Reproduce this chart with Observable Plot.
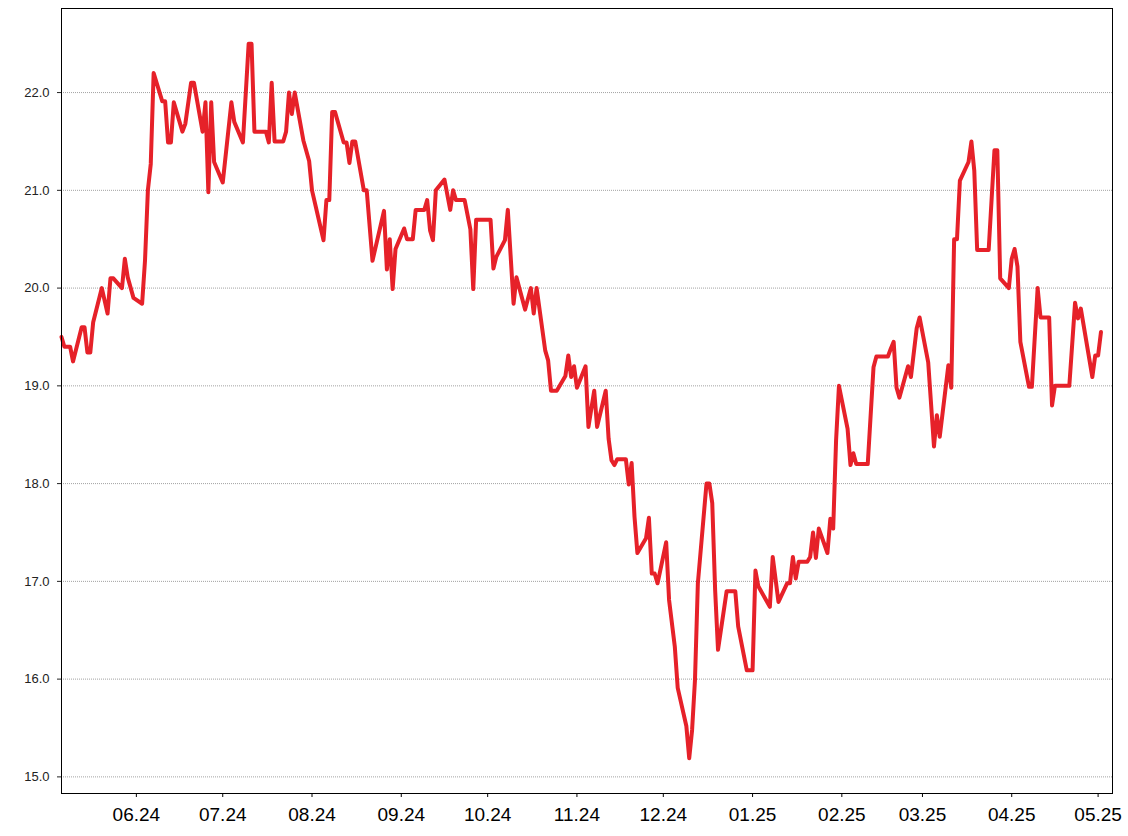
<!DOCTYPE html>
<html><head><meta charset="utf-8">
<script src="https://cdn.jsdelivr.net/npm/d3@7"></script>
<script src="https://cdn.jsdelivr.net/npm/@observablehq/plot@0.6"></script>
<style>body{margin:0;background:#fff}</style>
</head><body><div id="chart"></div>
<script>
const dates = [
"2024-05-06","2024-05-07","2024-05-09","2024-05-10","2024-05-13","2024-05-14","2024-05-15","2024-05-16","2024-05-17","2024-05-20",
"2024-05-22","2024-05-23","2024-05-24","2024-05-27","2024-05-28","2024-05-29","2024-05-31","2024-06-03","2024-06-04","2024-06-05",
"2024-06-06","2024-06-07","2024-06-10","2024-06-11","2024-06-12","2024-06-13","2024-06-14","2024-06-17","2024-06-18","2024-06-20",
"2024-06-21","2024-06-24","2024-06-25","2024-06-26","2024-06-27","2024-06-28","2024-07-01","2024-07-04","2024-07-05","2024-07-08",
"2024-07-10","2024-07-11","2024-07-12","2024-07-16","2024-07-17","2024-07-18","2024-07-19","2024-07-22","2024-07-23","2024-07-24",
"2024-07-25","2024-07-26","2024-07-29","2024-07-31","2024-08-01","2024-08-05","2024-08-06","2024-08-07","2024-08-08","2024-08-09",
"2024-08-12","2024-08-13","2024-08-14","2024-08-15","2024-08-16","2024-08-19","2024-08-20","2024-08-22","2024-08-26","2024-08-27",
"2024-08-28","2024-08-29","2024-08-30","2024-09-02","2024-09-03","2024-09-05","2024-09-06","2024-09-09","2024-09-10","2024-09-11",
"2024-09-12","2024-09-13","2024-09-16","2024-09-18","2024-09-19","2024-09-20","2024-09-23","2024-09-25","2024-09-26","2024-09-27",
"2024-10-02","2024-10-03","2024-10-04","2024-10-07","2024-10-08","2024-10-10","2024-10-11","2024-10-14","2024-10-16","2024-10-17",
"2024-10-18","2024-10-21","2024-10-22","2024-10-23","2024-10-25","2024-10-28","2024-10-29","2024-10-30","2024-10-31","2024-11-01",
"2024-11-04","2024-11-05","2024-11-07","2024-11-08","2024-11-11","2024-11-12","2024-11-13","2024-11-14","2024-11-15","2024-11-18",
"2024-11-19","2024-11-20","2024-11-21","2024-11-22","2024-11-25","2024-11-26","2024-11-27","2024-11-28","2024-11-29","2024-12-02",
"2024-12-03","2024-12-05","2024-12-06","2024-12-09","2024-12-10","2024-12-11","2024-12-12","2024-12-13","2024-12-16","2024-12-17",
"2024-12-18","2024-12-19","2024-12-20","2024-12-23","2024-12-26","2024-12-27","2024-12-30","2025-01-01","2025-01-02","2025-01-03",
"2025-01-07","2025-01-08","2025-01-10","2025-01-13","2025-01-14","2025-01-15","2025-01-16","2025-01-17","2025-01-20","2025-01-21",
"2025-01-22","2025-01-23","2025-01-24","2025-01-27","2025-01-28","2025-01-29","2025-01-30","2025-01-31","2025-02-03","2025-02-04",
"2025-02-05","2025-02-06","2025-02-10","2025-02-12","2025-02-13","2025-02-17","2025-02-18","2025-02-19","2025-02-20","2025-02-21",
"2025-02-24","2025-02-25","2025-02-27","2025-02-28","2025-03-03","2025-03-05","2025-03-06","2025-03-07","2025-03-10","2025-03-11",
"2025-03-12","2025-03-13","2025-03-14","2025-03-17","2025-03-18","2025-03-19","2025-03-20","2025-03-24","2025-03-26","2025-03-27",
"2025-03-28","2025-03-31","2025-04-01","2025-04-02","2025-04-03","2025-04-04","2025-04-07","2025-04-08","2025-04-10","2025-04-11",
"2025-04-14","2025-04-15","2025-04-16","2025-04-21","2025-04-23","2025-04-24","2025-04-25","2025-04-29","2025-04-30","2025-05-01",
"2025-05-02"
];
const prices = [
19.5,19.4,19.4,19.25,19.6,19.6,19.34,19.34,19.65,20.0,
19.74,20.1,20.1,20.0,20.3,20.11,19.9,19.84,20.28,21.0,
21.27,22.2,21.91,21.91,21.49,21.49,21.9,21.6,21.68,22.1,
22.1,21.6,21.9,20.98,21.9,21.29,21.08,21.9,21.7,21.49,
22.5,22.5,21.6,21.6,21.49,22.1,21.5,21.5,21.6,22.0,
21.78,22.0,21.51,21.3,21.0,20.49,20.9,20.9,21.8,21.8,
21.49,21.49,21.28,21.5,21.5,21.0,21.0,20.28,20.79,20.19,
20.5,19.99,20.4,20.61,20.5,20.5,20.8,20.8,20.9,20.59,
20.49,21.0,21.11,20.8,21.0,20.9,20.9,20.6,19.99,20.7,
20.7,20.2,20.32,20.49,20.8,19.84,20.11,19.78,20.0,19.74,
20.0,19.36,19.26,18.95,18.95,19.1,19.31,19.09,19.2,18.98,
19.2,18.58,18.95,18.58,18.95,18.46,18.24,18.19,18.25,18.25,
17.99,18.21,17.66,17.29,17.44,17.65,17.08,17.08,16.98,17.4,
16.81,16.33,15.91,15.52,15.19,15.48,15.99,16.98,18.0,18.0,
17.8,16.91,16.3,16.9,16.9,16.54,16.09,16.09,17.11,16.95,
16.74,17.25,16.79,16.98,16.98,17.25,17.03,17.2,17.2,17.25,
17.5,17.24,17.54,17.29,17.64,17.54,18.44,19.0,18.56,18.19,
18.31,18.2,18.2,19.19,19.3,19.3,19.38,19.45,18.98,18.88,
19.2,19.09,19.59,19.7,19.24,18.38,18.7,18.48,19.21,18.98,
20.5,20.5,21.1,21.29,21.5,21.2,20.39,20.39,21.41,21.41,
20.1,20.0,20.3,20.4,20.22,19.45,18.99,18.99,20.0,19.7,
19.7,18.8,19.0,19.0,19.85,19.69,19.79,19.09,19.31,19.31,
19.55
];
const yTicks = [15, 16, 17, 18, 19, 20, 21, 22];
const monthTicks = ["2024-06-01","2024-07-01","2024-08-01","2024-09-01","2024-10-01","2024-11-01",
  "2024-12-01","2025-01-01","2025-02-01","2025-03-01","2025-04-01","2025-05-01"];
const xDomain = ["2024-05-06", "2025-05-06"];
const yDomain = [14.83, 22.86];

const data = dates.map((d, i) => ({date: new Date(d), value: prices[i]}));

const chart = Plot.plot({
  width: 1128, height: 836,
  marginLeft: 61, marginRight: 16, marginTop: 8, marginBottom: 43,
  style: {fontFamily: "'Liberation Sans', Arial, sans-serif", background: "#fff", color: "#000"},
  x: {type: "utc", domain: xDomain.map(d => new Date(d))},
  y: {domain: yDomain},
  marks: [
    Plot.ruleY(yTicks, {stroke: "#8a8a8a", strokeDasharray: "1,1", strokeWidth: 0.8}),
    Plot.axisY({ticks: yTicks, tickFormat: d => d.toFixed(1), tickSize: 4, tickPadding: 8, fontSize: 13, label: null, color: "#222"}),
    Plot.axisX({ticks: monthTicks.map(d => new Date(d)), tickFormat: d3.utcFormat("%m.%y"), tickSize: 4, tickPadding: 10, fontSize: 19, label: null, color: "#000"}),
    Plot.line(data, {x: "date", y: "value", stroke: "#e62129", strokeWidth: 4}),
    Plot.frame({stroke: "#000"})
  ]
});
document.getElementById("chart").appendChild(chart);
</script>
</body></html>
